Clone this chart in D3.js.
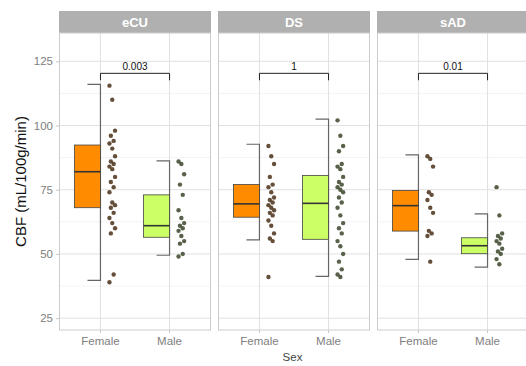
<!DOCTYPE html>
<html lang="en">
<head>
<meta charset="UTF-8">
<script src="https://d3js.org/d3.v7.min.js"></script>
<style>
  body { margin: 0; background: #fff; }
  svg { font-family: "Liberation Sans", Arial, sans-serif; }
</style>
</head>
<body>
<svg id="viz" width="526" height="366"></svg>
<script>
// data
var panels = ["eCU", "DS", "sAD"];
var sexes = ["Female", "Male"];
var yTicks = [25, 50, 75, 100, 125];
var pValues = ["0.003", "1", "0.01"];

// box stats per panel: [Female, Male]
var q1 = [[68, 56.5], [64.3, 55.7], [58.9, 50.1]];
var med = [[82, 61], [69.5, 69.7], [68.8, 53.2]];
var q3 = [[92.4, 73], [77, 80.5], [74.7, 56.3]];
var lo = [[39.7, 49.5], [55.5, 41.3], [47.9, 44.9]];
var hi = [[116, 86.2], [92.7, 102.5], [88.6, 65.6]];

var eCUFemale = [115.5, 110, 98, 96, 94, 93, 91, 88, 86, 85, 84, 83, 80, 78, 76, 74, 70, 69, 68, 66, 64, 62, 60, 58, 42, 39];
var eCUMale = [86, 85, 81, 77, 73, 67, 64, 62, 61, 60, 59, 57, 55, 54, 50, 49];
var dsFemale = [92, 88, 85, 80, 77, 76, 74, 72, 71, 70, 69, 68, 67, 66, 65, 63, 61, 58, 56, 55, 41];
var dsMale = [102, 96, 92, 90, 85, 84, 83, 80, 78, 77, 76, 75, 74, 72, 70, 68, 65, 62, 60, 58, 55, 53, 50, 47, 44, 42, 41];
var sadFemale = [88, 87, 84, 74, 73, 71, 68, 66, 59, 58, 57, 47];
var sadMale = [76, 65, 58, 57, 56, 55, 54, 52, 51, 50, 48, 46];
var points = [[eCUFemale, eCUMale], [dsFemale, dsMale], [sadFemale, sadMale]];

var boxFill = {Female: "#ff8c00", Male: "#ccff66"};
var dotFill = {Female: "#4a3018", Male: "#3b4529"};

var svg = d3.select("#viz");
var xLeft = 59, xRight = 529, yTop = 33, yBottom = 330, stripH = 22;

var fx = d3.scaleBand().domain(panels).range([xLeft, xRight]).paddingInner(0.044).paddingOuter(0);
var bw = fx.bandwidth();
var x = d3.scalePoint().domain(sexes).range([0, bw]).padding(0.6);
var y = d3.scaleLinear().domain([20.4, 136]).range([yBottom, yTop]);
var boxW = 26;

var minor = [];
for (var i = 0; i < yTicks.length - 1; i++) minor.push((yTicks[i] + yTicks[i + 1]) / 2);

panels.forEach(function(p, pi) {
  var g = svg.append("g").attr("transform", "translate(" + fx(p) + ",0)");

  // strip
  g.append("rect").attr("x", 0).attr("y", yTop - stripH).attr("width", bw).attr("height", stripH)
    .attr("fill", "#b0b0b0");
  g.append("text").attr("x", bw / 2).attr("y", yTop - stripH / 2).attr("dy", "0.36em")
    .attr("text-anchor", "middle").attr("fill", "#fff").attr("font-weight", "bold")
    .attr("font-size", 13).text(p);

  // grid
  g.selectAll(".minor").data(minor).enter().append("line")
    .attr("x1", 0).attr("x2", bw).attr("y1", y).attr("y2", y)
    .attr("stroke", "#eeeeee").attr("stroke-width", 0.7);
  g.selectAll(".major").data(yTicks).enter().append("line")
    .attr("x1", 0).attr("x2", bw).attr("y1", y).attr("y2", y)
    .attr("stroke", "#e0e0e0").attr("stroke-width", 1);
  g.selectAll(".vgrid").data(sexes).enter().append("line")
    .attr("x1", x).attr("x2", x).attr("y1", yTop).attr("y2", yBottom)
    .attr("stroke", "#e0e0e0").attr("stroke-width", 1);

  // panel border
  g.append("rect").attr("x", 0.5).attr("y", yTop).attr("width", bw - 1).attr("height", yBottom - yTop)
    .attr("fill", "none").attr("stroke", "#cccccc").attr("stroke-width", 1);

  sexes.forEach(function(s, si) {
    var cx = x(s);
    // whisker bracket
    g.append("path")
      .attr("d", "M" + (cx - boxW / 2) + "," + y(hi[pi][si]) + "H" + cx + "V" + y(lo[pi][si]) + "H" + (cx - boxW / 2))
      .attr("fill", "none").attr("stroke", "#666").attr("stroke-width", 1.2);
    // box
    g.append("rect").attr("x", cx - boxW).attr("width", boxW)
      .attr("y", y(q3[pi][si])).attr("height", y(q1[pi][si]) - y(q3[pi][si]))
      .attr("fill", boxFill[s]).attr("stroke", "#444").attr("stroke-width", 0.8);
    g.append("line").attr("x1", cx - boxW).attr("x2", cx)
      .attr("y1", y(med[pi][si])).attr("y2", y(med[pi][si]))
      .attr("stroke", "#333").attr("stroke-width", 1.6);
    // jittered points
    g.selectAll(".pt" + si).data(points[pi][si]).enter().append("circle")
      .attr("cx", function(d, k) { return cx + 9 + ((k * 7) % 5) * 1.4; })
      .attr("cy", function(d) { return y(d); })
      .attr("r", 2.2)
      .attr("fill", dotFill[s]).attr("fill-opacity", 0.85);
  });

  // significance bracket
  var by = y(120.3), bt = y(117.6);
  g.append("path")
    .attr("d", "M" + x("Female") + "," + bt + "V" + by + "H" + x("Male") + "V" + bt)
    .attr("fill", "none").attr("stroke", "#222").attr("stroke-width", 1);
  g.append("text").attr("x", (x("Female") + x("Male")) / 2).attr("y", by - 3)
    .attr("text-anchor", "middle").attr("font-size", 10).attr("fill", "#111").text(pValues[pi]);

  // x axis labels
  g.selectAll(".xl").data(sexes).enter().append("text")
    .attr("x", x).attr("y", yBottom + 15).attr("text-anchor", "middle")
    .attr("font-size", 11.5).attr("fill", "#808080").text(function(d) { return d; });
  g.selectAll(".xt").data(sexes).enter().append("line")
    .attr("x1", x).attr("x2", x).attr("y1", yBottom).attr("y2", yBottom + 3)
    .attr("stroke", "#c8c8c8");
});

// y axis
var yAxis = svg.append("g").attr("transform", "translate(" + xLeft + ",0)")
  .call(d3.axisLeft(y).tickValues(yTicks).tickSize(3).tickPadding(3));
yAxis.select(".domain").remove();
yAxis.selectAll("line").attr("stroke", "#c8c8c8");
yAxis.selectAll("text").attr("fill", "#808080").attr("font-size", 11.5)
  .attr("font-family", "Liberation Sans, Arial, sans-serif");

svg.append("text").attr("transform", "translate(21," + ((yTop + yBottom) / 2) + ") rotate(-90)")
  .attr("text-anchor", "middle").attr("dy", "0.35em").attr("font-size", 15).attr("fill", "#111")
  .text("CBF (mL/100g/min)");

svg.append("text").attr("x", (xLeft + 526) / 2).attr("y", 361).attr("text-anchor", "middle")
  .attr("font-size", 11.5).attr("fill", "#444").text("Sex");
</script>
</body>
</html>
